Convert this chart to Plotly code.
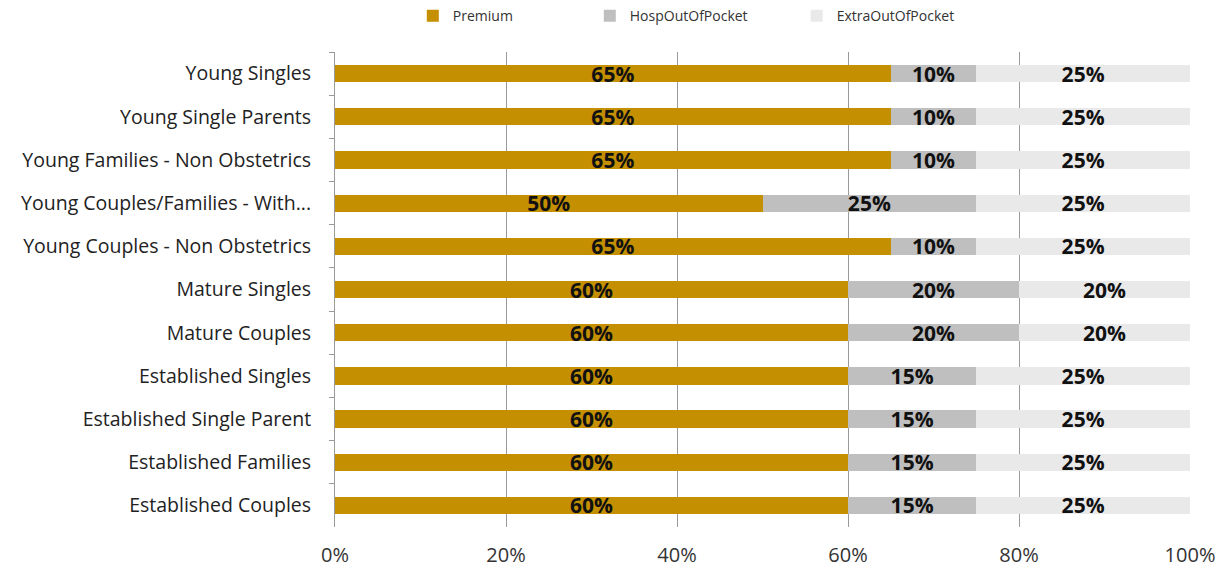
import plotly.graph_objects as go

categories = [
    "Young Singles",
    "Young Single Parents",
    "Young Families - Non Obstetrics",
    "Young Couples/Families - With...",
    "Young Couples - Non Obstetrics",
    "Mature Singles",
    "Mature Couples",
    "Established Singles",
    "Established Single Parent",
    "Established Families",
    "Established Couples",
]
premium = [0.65, 0.65, 0.65, 0.50, 0.65, 0.60, 0.60, 0.60, 0.60, 0.60, 0.60]
hosp_oop = [0.10, 0.10, 0.10, 0.25, 0.10, 0.20, 0.20, 0.15, 0.15, 0.15, 0.15]
extra_oop = [0.25, 0.25, 0.25, 0.25, 0.25, 0.20, 0.20, 0.25, 0.25, 0.25, 0.25]
x_ticks = [0, 0.2, 0.4, 0.6, 0.8, 1.0]
x_tick_labels = ["0%", "20%", "40%", "60%", "80%", "100%"]

series = [
    ("Premium", premium, "#C48F00", "legend"),
    ("HospOutOfPocket", hosp_oop, "#BFBFBF", "legend2"),
    ("ExtraOutOfPocket", extra_oop, "#E9E9E9", "legend3"),
]

FONT = "Open Sans"

fig = go.Figure()
for name, vals, color, lg in series:
    fig.add_trace(go.Bar(
        y=categories, x=vals, name=name, orientation="h",
        marker=dict(color=color, line=dict(width=0)),
        text=vals, texttemplate="%{x:.0%}", textposition="inside",
        insidetextanchor="middle", constraintext="none",
        textfont=dict(family=FONT, size=21, color="#111111", weight="bold"),
        legend=lg, showlegend=True, hoverinfo="skip",
    ))


def legend_box(xpos):
    return dict(orientation="h", yanchor="middle", y=0.972, yref="container",
                xanchor="left", x=xpos, xref="paper",
                font=dict(family=FONT, size=14, color="#333333"),
                bgcolor="rgba(0,0,0,0)", itemwidth=30, visible=True)


fig.update_layout(
    width=1221, height=573,
    margin=dict(l=335, r=31, t=52, b=46),
    barmode="stack", bargap=0.6,
    plot_bgcolor="white", paper_bgcolor="white",
    font=dict(family=FONT, color="#333333"),
    showlegend=True,
    legend=legend_box(0.091),
    legend2=legend_box(0.298),
    legend3=legend_box(0.54),
    xaxis=dict(range=[0, 1], tickvals=x_ticks, ticktext=x_tick_labels,
               showgrid=True, gridcolor="#9A9A9A", gridwidth=1, zeroline=False,
               showline=False, ticks="", ticklabelstandoff=14, automargin=False,
               tickfont=dict(family=FONT, size=20, color="#333333")),
    yaxis=dict(autorange="reversed", showline=True, linecolor="#9A9A9A", linewidth=1,
               ticks="outside", tickson="boundaries", ticklen=5, tickcolor="#9A9A9A",
               showgrid=False, automargin=False,
               tickfont=dict(family=FONT, size=19.5, color="#222222"),
               ticklabelstandoff=19),
)

fig.write_html("out.html")
